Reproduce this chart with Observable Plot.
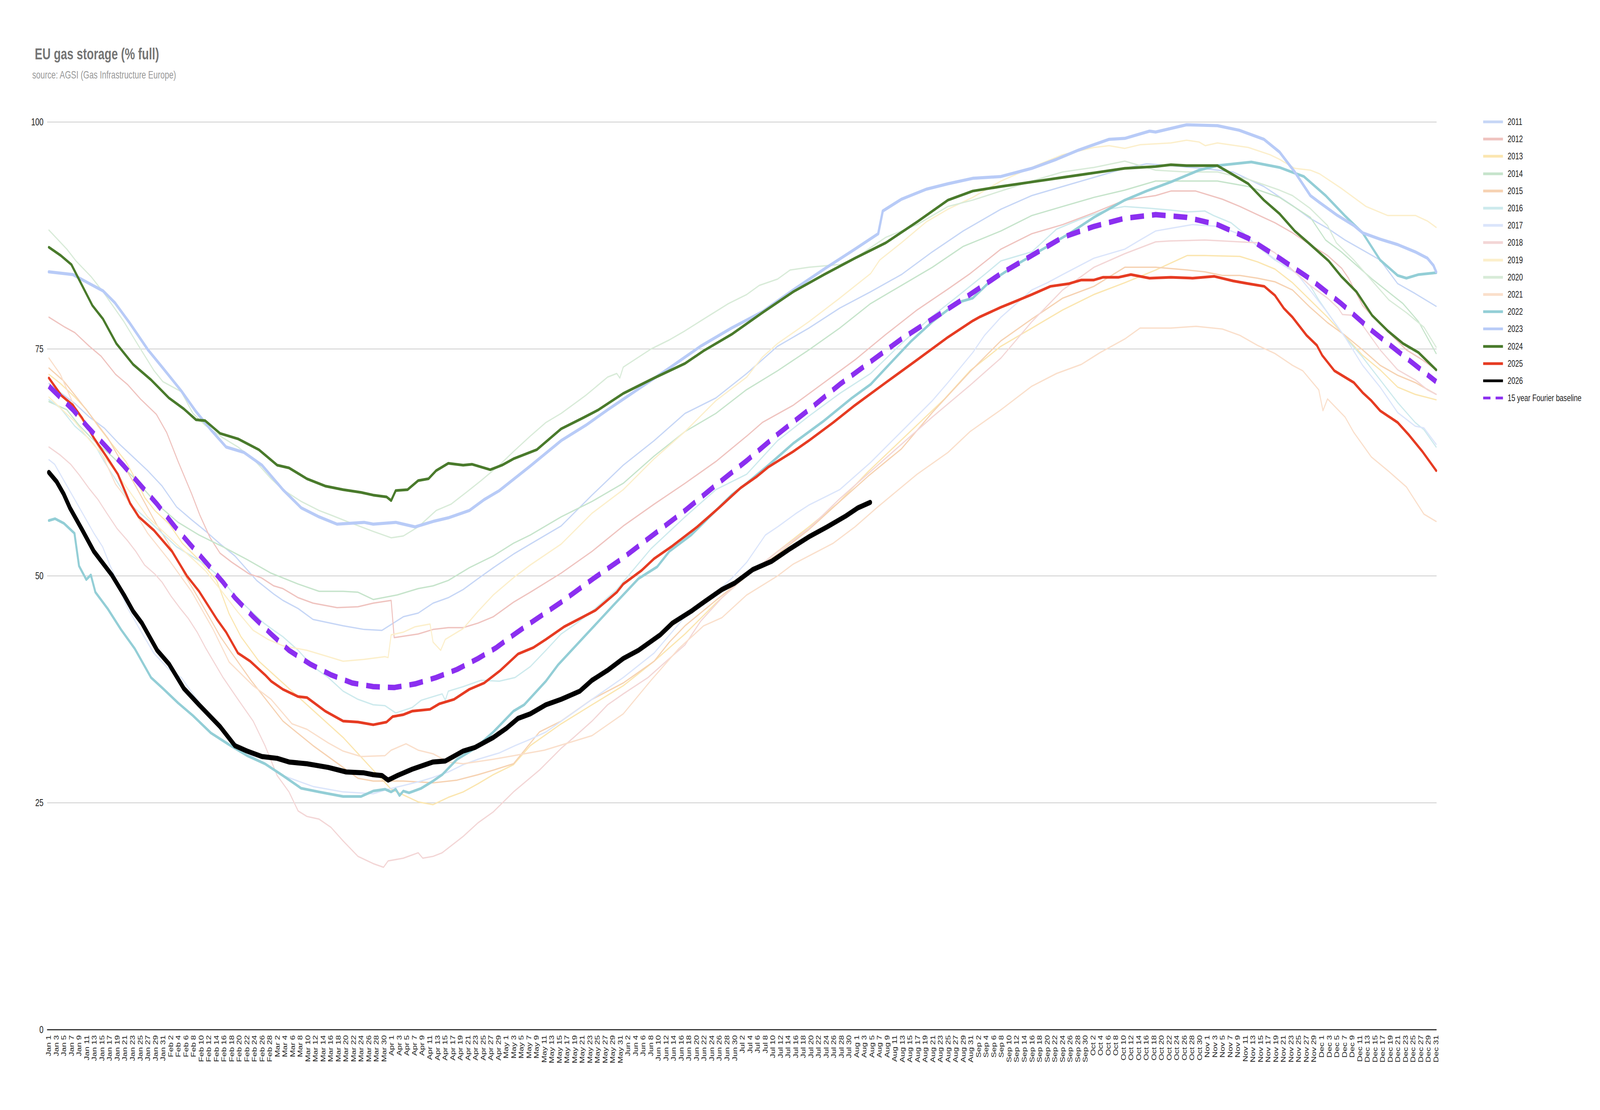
<!DOCTYPE html>
<html>
<head>
<meta charset="utf-8">
<script src="https://cdn.jsdelivr.net/npm/d3@7"></script>
<script src="https://cdn.jsdelivr.net/npm/@observablehq/plot@0.6"></script>
<style>
  html, body { margin: 0; padding: 0; background: #fff; overflow: hidden; }
  #wrap { position: relative; width: 5610px; height: 2842px; font-family: "Liberation Sans", Arial, sans-serif; transform-origin: 0 0; }
  #title { position: absolute; left: 122px; top: 118px; font-size: 40px; font-weight: bold; color: #757575; line-height: 1; z-index: 2; }
  #subtitle { position: absolute; left: 113px; top: 178px; font-size: 27.5px; color: #999; line-height: 1; z-index: 2; }
  #chart { position: absolute; left: 0; top: 0; }
  #legend { position: absolute; left: 5200px; top: 290px; z-index: 2; }
  .lg { display: flex; align-items: center; height: 44.2px; font-size: 24px; color: #222; white-space: nowrap; }
  .lg svg { margin-right: 16px; }
</style>
</head>
<body>
<div id="wrap">
  <div id="title">EU gas storage (% full)</div>
  <div id="subtitle">source: AGSI (Gas Infrastructure Europe)</div>
  <div id="chart"></div>
  <div id="legend"></div>
</div>
<script>
// ---- tick labels ----
const months = ["Jan","Feb","Mar","Apr","May","Jun","Jul","Aug","Sep","Oct","Nov","Dec"];
const monthLengths = [31,28,31,30,31,30,31,31,30,31,30,31];
const yTicks = [0, 25, 50, 75, 100];

// ---- series: [day of year (0 = Jan 1), % full] ----
const y2011 = [[0,71.2],[3,70.2],[6.8,69],[10.6,67.5],[14.5,66.3],[18.3,64.6],[22.1,63.1],[25.9,61.6],[29.7,59.9],[33.5,57.6],[37.4,56.2],[41.2,54.9],[45,53.5],[48.8,52.2],[54.5,49.5],[59,48],[61.4,47.3],[65.4,46.4],[69.3,45.2],[77.2,44.5],[82.7,44.1],[87.4,44],[93,45.5],[96.9,45.9],[100.8,47],[104.8,47.6],[108.7,48.5],[112.6,49.7],[116.6,50.9],[121.9,52.4],[126.3,53.5],[134.4,55.5],[142.5,58.9],[150.7,62.2],[158.8,64.9],[166.9,67.9],[175,69.6],[183.1,72.3],[191.2,75.3],[199.4,77.3],[207.5,79.5],[215.6,81.3],[223.7,83.2],[231.8,85.7],[239.9,88],[249.8,90.4],[257.9,91.9],[266,92.9],[274.2,93.9],[282.3,94.9],[288,95.4],[294.4,95.2],[302.6,94.9],[310.7,94.5],[318.8,92.9],[326.3,90.8],[330.9,89.4],[335.5,88.3],[340.1,87],[344.7,85.9],[349.3,84.8],[353.9,82.2],[358.5,81.1],[364,79.7]];
const y2012 = [[0,78.5],[4.2,77.4],[6.8,76.8],[10.6,75.3],[13.7,74.2],[17.5,72.2],[20.6,71.1],[24,69.5],[28.2,67.8],[30.9,65.8],[33.9,62.6],[37.4,59.1],[39.6,56.7],[42.3,54.2],[44.9,52.5],[48,51.5],[52.6,50.2],[55.7,49.8],[59,48.9],[61.4,48.6],[65.4,47.6],[69.3,47],[75.6,46.5],[81.1,46.6],[85.1,47],[89.8,47.3],[90.6,43.2],[96.9,43.6],[100.8,44.1],[104.8,44.3],[108.7,44.3],[112.6,44.8],[116.6,45.5],[121.9,47.1],[126.3,48.2],[134.4,50.3],[142.5,52.7],[150.7,55.5],[158.8,57.9],[166.9,60.2],[175,62.6],[183.1,65.4],[187.2,66.9],[195.3,68.8],[203.4,71.3],[211.5,73.8],[219.6,76.6],[227.8,79.3],[235.9,81.6],[241.7,83.3],[249.8,86],[257.9,87.7],[266,88.7],[274.2,90],[282.3,91.4],[290.4,91.9],[294.4,92.4],[300.9,92.4],[307.9,91.5],[312.5,90.7],[317.1,89.8],[321.7,88.9],[326.3,87.8],[330.9,86.5],[335.5,85.3],[339.2,83.9],[341,82.8],[344.7,79.8],[347.5,78.5],[351.6,76.8],[356.2,74.9],[360.4,73.8],[364,72.7]];
const y2013 = [[0,72.2],[3,71.2],[6.8,69.7],[9.9,68.3],[12.9,66.5],[16.4,64.6],[20.2,62.6],[22.8,60.6],[25.2,58.6],[27.8,57.2],[31.6,55.7],[35,53.6],[40,51.5],[44,49.5],[47.3,45.8],[50.4,43.3],[55.1,40.6],[61.4,38.2],[69.3,35.2],[77.2,32.2],[85.1,28.6],[89.8,26.5],[96.9,25.1],[100.8,24.8],[104.8,25.6],[108.7,26.2],[112.6,27.1],[116.6,28.1],[121.9,29.2],[126.3,31.3],[134.4,33.7],[142.5,35.8],[150.7,37.9],[158.8,40.6],[166.9,43.6],[175,47],[183.1,50],[191.2,52.7],[199.4,55.4],[207,58],[215,61.5],[225,65.5],[235,69.5],[241.7,72.6],[249.8,75.3],[257.9,77.3],[266,79.3],[274.2,81],[282.3,82.3],[290.4,83.7],[298.7,85.3],[303.3,85.3],[312.5,85.2],[317.1,84.6],[321.7,83.8],[326.3,82.3],[330.9,80.4],[335.5,78.5],[340.1,76.4],[344.7,74.3],[349.3,72.7],[353.9,70.8],[358.5,70],[364,69.4]];
const y2014 = [[0,69.2],[4.7,68.3],[7.9,66.6],[11.8,64.9],[16.5,63.2],[22.1,60.9],[28.4,57.9],[33.9,55.9],[39.4,54.5],[45.7,53.2],[52,51.8],[58.3,50.3],[65.4,49.1],[70.9,48.3],[77.2,48.3],[81.1,48.2],[85.1,47.4],[91.4,47.9],[96.9,48.6],[100.8,48.9],[104.8,49.5],[110.3,50.9],[116.6,52.2],[121.9,53.6],[126.3,54.5],[134.4,56.5],[142.5,58.2],[150.7,60.2],[158.8,63.2],[166.9,65.9],[175,67.9],[183,70.5],[191.2,72.6],[199.4,74.9],[207.5,77.3],[215.6,80],[223.7,82],[231.8,84],[239.9,86.3],[249.8,88],[257.9,89.7],[266,90.7],[274.2,91.7],[282.3,92.5],[290.4,93.5],[298.5,93.5],[306.6,93.5],[314.7,92.9],[322.9,91.7],[331,89.5],[335,87],[339.1,85.7],[347.2,82.7],[355.3,80],[359.4,78],[364,74.5]];
const y2015 = [[0,72.9],[3.8,71.5],[7.6,69.5],[12.2,67],[15.6,65.1],[19,62.6],[22.1,60.4],[25.1,58.1],[28.2,55.7],[30.9,53.9],[33.5,52],[35.8,50],[39.3,47.5],[42.3,45.3],[45,43.3],[47.3,41.9],[53,38.5],[61.4,34],[69.3,31.3],[77.2,28.9],[81.1,27.7],[85.1,27.4],[93,27.4],[100.8,27.2],[107.1,27.5],[112.6,28.1],[116.6,28.6],[121.9,29.3],[128.7,32.8],[134.4,34],[142.5,36.4],[150.7,38.2],[158.8,40.6],[162.8,42.7],[166.9,44.5],[175,47.3],[183.1,50],[191.2,52.4],[199.4,55.1],[207,58],[215,61],[223.7,64],[231.8,68],[241.7,72.5],[249.8,75.9],[257.9,78.3],[266,80.6],[274.2,81.9],[282.3,84],[290.4,84],[298.7,83.7],[303.3,83.5],[307.9,83.1],[312.5,83.1],[317.1,82.8],[321.7,82.4],[326.3,81.5],[330.9,79.6],[335.5,77.9],[340.1,76.5],[344.7,74.9],[349.3,73.2],[353.9,72.1],[358.5,71.3],[364,70]];
const y2016 = [[0,69.4],[3,68.5],[6.8,66.5],[10.6,65.1],[12.5,64.1],[14.5,62.6],[18.3,60.1],[22.1,57.6],[25.9,56.2],[29.7,54.7],[33.5,53.2],[37.4,52.2],[41.2,51.2],[45,49.8],[48.8,47.8],[52.6,46.3],[56.4,44.8],[59,44],[61.4,43.3],[65.4,41.8],[69.3,40],[73.3,38.8],[77.2,37.3],[81.1,36.4],[85.1,35.8],[88.2,35.7],[91,34.9],[95.3,35.5],[97.7,36.3],[100.8,36.7],[103.2,37],[104,36.3],[104.8,37.3],[108.7,37.8],[113.4,38.5],[118.2,38.4],[122.3,38.8],[126.3,40],[130.4,41.8],[134.4,43.6],[138.5,44.8],[142.5,46.1],[149,48.5],[158,53],[166.9,56.5],[175,59.5],[183.1,61.2],[191.2,64.9],[199.4,67.6],[207.5,70.1],[215.6,72.3],[223.7,75.6],[231.8,78.6],[239.9,81.3],[245.5,83.2],[249.8,84.7],[257.9,85.7],[264.4,88.2],[270.1,89.2],[278.2,90.4],[282.3,90.7],[288.8,90.5],[294.4,90.3],[298.7,90.1],[303.3,90.2],[305.6,89.7],[310.2,88.9],[313.4,87.8],[317.1,86.3],[321.7,84.8],[326.3,83.7],[330.9,82],[333.2,80.4],[335.5,79],[340.1,76.3],[344.7,74.1],[349.3,71.6],[353.9,69.1],[358.5,66.9],[360.8,66.1],[364,64.2]];
const y2017 = [[0,62.8],[1.5,62.3],[3.8,60.6],[6.8,58.4],[9.1,56.7],[11.8,54.7],[14.1,53.2],[16,51.2],[17.5,49.8],[19,48],[20.6,46.5],[24,44],[27.5,41.5],[31.5,39.7],[34.7,38.8],[37.8,37],[43,34],[48.8,31.6],[53,30.2],[58.3,28.9],[61.4,28],[69.3,26.8],[77.2,26.2],[85.1,26],[89,26.5],[93,26.9],[97.7,27.4],[100.8,27.8],[104.8,28.4],[108.7,29.2],[112.6,29.8],[118.2,30.5],[122.3,31.3],[126.3,32],[130.4,32.8],[138.5,35.2],[142.5,36.4],[150.7,38.8],[158.8,41.5],[166.9,45.5],[173.4,47.6],[179.1,49.7],[183.1,51.5],[188,54.5],[191.2,55.4],[196.1,56.9],[199.4,57.8],[207.5,59.5],[215.6,62.5],[223.7,65.9],[231.8,69.3],[235.9,71.3],[242.4,74.6],[245.5,76.5],[249.8,78.5],[257.9,81.5],[262,82.3],[266,83.2],[274.2,85],[282.3,86],[286.3,87],[290.4,88],[294.4,88.3],[300,88.7],[307,88.5],[310.2,88],[313.9,87.4],[319.4,85.6],[324,84.2],[327.2,83.4],[330.9,81.5],[335.5,79],[340.1,76.3],[344.7,73.2],[349.3,70.8],[353.9,68],[358.5,66.5],[360.8,66.3],[364,64.5]];
const y2018 = [[0,64.2],[3,63.3],[5.7,62.3],[8,61.1],[10.6,59.6],[12.9,58.4],[15.2,56.9],[17.9,55.2],[20.6,53.9],[22.8,52.7],[25.1,51.2],[27.8,50.2],[29.7,49.3],[32,47.8],[34.3,46.5],[36.6,45.3],[38.9,43.8],[41.2,42],[45.7,38.8],[49.6,36.4],[53.6,34],[56.7,31.3],[59.9,28],[63,26.2],[65.4,24.1],[67.7,23.5],[70.9,23.2],[74,22.3],[77.2,20.8],[81.1,19.1],[85.1,18.3],[87.8,17.9],[89,18.6],[93,18.9],[96.9,19.5],[98.1,18.9],[100.8,19.1],[103.2,19.5],[108.7,21.3],[112.6,22.8],[116.6,24],[121.9,26.2],[128.7,28.6],[134.4,31],[137.7,32.2],[142.5,34],[146.6,35.8],[150.7,37],[157.2,38.8],[162,40.6],[166.9,42.4],[171,45],[176.6,47.6],[183,50],[191,52.6],[199.4,55.2],[207.5,58.5],[215.6,61.5],[223.7,64.5],[231.8,67.5],[241.7,71],[249.8,74],[257.9,78],[266,81.5],[274.2,84],[282.3,85.5],[290.4,86.8],[294,86.9],[303.3,87],[312.5,86.8],[317,86.7],[321.7,85.6],[326.3,83.7],[330.9,82],[335.5,80.6],[338.3,79.5],[339.4,78.8],[342.4,78.7],[344.7,77.6],[349.3,74.9],[353.9,72.7],[358.5,71.6],[361.7,70.5],[364,70]];
const y2019 = [[0,69.7],[3,68.5],[6.8,67],[10.6,65],[13.7,63.5],[17.5,61.5],[22,58.8],[25.9,56.5],[29.7,55],[33.5,53.5],[37.4,52],[41.2,50.5],[45,48.5],[49.6,46],[53.6,44],[57.5,43],[61.4,42.3],[67.7,41.8],[73.3,41.1],[77.2,40.6],[82.7,40.8],[88.2,41.1],[89,41],[89.8,43.5],[93,43.8],[96.1,44.4],[100,44.7],[100.8,42.7],[102.8,41.8],[104,43],[108.7,44.2],[112.6,46.1],[116.6,47.9],[121.9,49.8],[126.3,51.2],[134.4,53.5],[142.5,56.9],[150.7,59.5],[158.8,62.9],[166.9,65.9],[175,69.3],[183.1,71.9],[187.2,74.1],[191.2,75.6],[199.4,78],[207.5,80.6],[215.6,83.3],[218,84.8],[223.7,86.7],[230.2,89],[235.9,90.4],[242.4,91.7],[249.8,93.5],[257.9,95],[266,96.4],[274.2,97.2],[278.2,97.4],[282.3,97.1],[286.3,97.5],[294.4,97.7],[298.5,98],[301.8,97.8],[303.4,97.4],[306.6,97.7],[314.7,97.2],[320.4,96.4],[322.9,95.9],[326.9,94.9],[331,94.7],[333.4,94.3],[339.1,92.7],[345.6,90.7],[351.3,89.7],[358.6,89.7],[361.7,89.1],[364,88.4]];
const y2020 = [[0,88.1],[4.7,86],[7.1,84.7],[11,83],[14.2,81.3],[19.7,78],[23.6,75.3],[27.6,72.6],[29.9,71.4],[34.7,70.3],[37.8,67.9],[41,66.6],[45.7,65.2],[49.6,64.2],[53.6,62.9],[58.3,60.7],[61.4,59.5],[66.2,58.2],[70.9,57.2],[74,56.7],[78.8,55.9],[85.1,54.9],[89.8,54.2],[93,54.4],[96.9,55.4],[101.6,57.2],[105.5,57.9],[109.5,59.2],[113.4,60.5],[118.2,62.2],[121.9,63.7],[126.3,65.4],[130.4,66.9],[134.4,67.9],[140.9,69.9],[146.6,71.9],[149,72.3],[149.8,71.8],[150.7,73],[158,75],[162.8,76],[166.9,77],[171.8,78.3],[178.3,80],[183.1,81],[186.4,82],[191.2,82.7],[194.5,83.7],[199.4,84],[207.5,84.3],[211.5,85],[219.6,87.3],[227.8,88.7],[235.9,90.7],[242.4,91.4],[249.8,92.4],[257.9,93.5],[266,94.5],[274.2,95],[282.3,95.7],[290.4,94.7],[298.5,94.5],[306.6,94.5],[314.7,93.7],[322.9,92.5],[326.3,91.9],[330.9,90.5],[335.5,88.6],[337.8,86.7],[342.4,84.8],[347,82.6],[351.6,80.4],[356.2,79],[360.8,77.4],[364,75.2]];
const y2021 = [[0,74],[3,72.2],[7.6,67.8],[10.6,66],[13.7,63.6],[17.5,60.1],[20.6,58.4],[25.9,54.7],[31.6,51.7],[37.4,48.3],[43.1,44.1],[47.3,40.5],[53.6,37.9],[58.3,36.4],[63.8,33.7],[67.7,33.1],[73.3,31.6],[77.2,30.7],[81.9,30.1],[88.2,30.2],[89.8,30.8],[93.7,31.5],[96.9,30.8],[100.8,30.4],[104.8,29.5],[108.7,29.3],[116.6,29.8],[122,30.2],[130,30.8],[142.5,32.4],[150.7,34.8],[158,38.5],[165.3,42],[171.8,44.5],[176.6,45.4],[183.1,47.9],[191.2,50],[195.3,51.3],[205.8,53.6],[211.5,55.4],[217.2,57.5],[227.8,61.2],[235.9,63.6],[241.7,65.9],[249.8,68.3],[257.9,70.9],[264.4,72.3],[270.9,73.3],[275.8,74.6],[282.3,76.1],[286.3,77.3],[294.4,77.3],[301,77.5],[307.9,77.2],[312.5,76.5],[317.1,75.4],[321.7,74.5],[326.3,73.2],[329,72.6],[333.2,70.5],[334.3,68.2],[335.5,69.5],[340.1,67.5],[342.4,65.8],[347,63.1],[351.6,61.5],[356.2,59.8],[360.8,56.8],[364,56]];
const y2022 = [[0,56.1],[1.6,56.3],[3.9,55.8],[6.7,54.7],[7.9,51.1],[9.8,49.6],[11,50.1],[12.2,48.2],[15.4,46.4],[18.9,44.1],[22.5,42],[26.8,38.8],[29.9,37.6],[33.9,36],[37.8,34.6],[42.5,32.7],[47.3,31.4],[52,30.2],[56.7,29.3],[61.4,28],[66.2,26.6],[70.9,26.2],[77.2,25.7],[81.9,25.7],[85.1,26.3],[88.2,26.5],[89.8,26.2],[91,26.5],[92,25.8],[93,26.3],[94.5,26.1],[97.7,26.6],[100.8,27.4],[103.2,28.1],[107.1,29.8],[111.8,31],[116.6,32.8],[121.9,35.1],[124.7,35.8],[130.4,38.4],[133.6,40.2],[140.9,43.5],[148.2,46.8],[154.7,49.7],[159.6,51],[162.8,52.7],[168.5,54.5],[175,57.2],[179.1,58.9],[183.1,60.2],[188.8,62.2],[195.3,64.6],[203.4,67.1],[210.7,69.6],[215.6,71.1],[220.5,73.3],[226.1,75.8],[231.8,78],[238.3,80.1],[242.4,80.6],[246.6,82.3],[253.9,84.3],[262,86.3],[267.7,87.7],[274.2,89.5],[282.3,91.4],[288,92.4],[294.4,93.4],[301.8,94.7],[306.6,95.2],[315.5,95.6],[322.9,95],[329.3,94],[335,91.9],[340,89.7],[344.7,87.8],[349.3,84.8],[353.9,83.1],[356.2,82.8],[359.4,83.2],[364,83.4]];
const y2023 = [[0,83.5],[6.3,83.2],[10.2,82.3],[14.2,81.4],[17.3,80.1],[21.3,77.8],[26,74.9],[29.9,72.9],[34.7,70.4],[38.6,68.1],[42.5,66.1],[46.5,64.2],[51.2,63.6],[55.9,62.2],[61.4,59.5],[66.2,57.5],[70.9,56.5],[75.6,55.7],[82.7,55.9],[85.1,55.7],[91,55.9],[96.1,55.4],[100.8,56],[104.8,56.4],[110.3,57.2],[114.2,58.4],[118.2,59.4],[126.3,62.1],[134.4,64.9],[140.9,66.6],[146.6,68.3],[154.7,70.6],[162.8,72.9],[171,75.3],[179.1,77.3],[187.2,79.1],[195.3,81.5],[203.4,83.8],[211.5,86],[217.6,87.7],[218.8,90.2],[223.7,91.5],[230.2,92.6],[235.9,93.2],[242.4,93.8],[249.8,94],[257.9,94.9],[264.4,95.9],[270.1,96.9],[278.2,98.1],[282.3,98.2],[288.8,99],[290.4,98.9],[298.5,99.7],[306.6,99.6],[312.3,99.1],[318.8,98.1],[322.9,96.7],[326.9,94.5],[331,91.9],[333.2,91.2],[337.8,89.8],[342.4,88.6],[344.7,87.8],[349.3,87.1],[353.9,86.5],[358.5,85.7],[361.7,85],[363.3,84.2],[364,83.5]];
const y2024 = [[0,86.2],[3.1,85.3],[5.9,84.3],[8.7,82],[11.4,79.8],[14.2,78.3],[17.7,75.6],[22.1,73.3],[26.8,71.6],[31.5,69.6],[35.4,68.4],[38.6,67.2],[41,67.1],[44.9,65.7],[49.6,65.1],[55.1,63.9],[59.9,62.2],[63,61.9],[67.7,60.7],[72.5,59.9],[77.2,59.5],[81.9,59.2],[85.1,58.9],[88.6,58.7],[89.8,58.3],[91,59.4],[94.1,59.5],[96.9,60.5],[99.6,60.7],[101.6,61.6],[104.8,62.4],[108.7,62.2],[111,62.3],[115.8,61.7],[118.9,62.2],[121.9,62.9],[128,63.9],[134.4,66.2],[140.1,67.4],[144.2,68.3],[150.7,70.1],[158.8,71.8],[166.9,73.4],[171.8,74.8],[179.1,76.6],[187.2,79],[195.3,81.3],[203.4,83.2],[211.5,85],[219.6,86.7],[227.8,89],[235.9,91.4],[242.4,92.4],[249.8,92.9],[257.9,93.4],[266,93.9],[274.2,94.4],[282.3,94.9],[290.4,95.1],[294.4,95.3],[298.5,95.2],[306.6,95.2],[310.7,94.2],[314.7,93.2],[318.8,91.4],[322.9,89.9],[326.9,88],[331,86.5],[335.8,84.7],[339.1,83],[343.1,81.3],[347.2,78.7],[351.3,77],[355.3,75.6],[359.4,74.6],[364,72.7]];
const y2025 = [[0,71.8],[3.2,69.9],[6.3,68.8],[8.7,67.4],[11.8,65.2],[15,63.2],[18.1,61.2],[21.3,58],[23.6,56.5],[27.6,55],[32.3,52.7],[36.2,50],[39.4,48.3],[44.1,45.2],[46.5,43.8],[49.6,41.5],[52.8,40.6],[56.7,39.1],[58.3,38.4],[61.4,37.5],[65.4,36.7],[67.7,36.6],[72.5,35.1],[77.2,34],[81.1,33.9],[85.1,33.6],[88.6,33.9],[90.2,34.5],[92.9,34.7],[95.3,35.1],[100,35.3],[102.4,35.9],[106.3,36.4],[110.3,37.5],[114.2,38.2],[118.5,39.6],[123.1,41.4],[127.1,42.1],[130.4,43],[135.2,44.4],[139.3,45.3],[143.4,46.2],[149,48.2],[150.7,49.1],[155.5,50.6],[158.8,51.9],[163.6,53.3],[170.1,55.4],[175.8,57.5],[181.5,59.7],[185.6,60.9],[188.8,62],[195.3,63.7],[199.4,64.9],[205.8,66.9],[211.5,68.8],[219.6,71.3],[227.8,73.8],[235.9,76.3],[242.4,78.1],[244.1,78.5],[249.8,79.6],[253.9,80.3],[257.9,81],[262.8,81.9],[267.7,82.2],[270.9,82.6],[274.2,82.6],[276.6,82.9],[280.7,82.9],[283.9,83.2],[288.8,82.8],[294.4,82.9],[300.1,82.8],[305.8,83],[310.7,82.5],[314.7,82.2],[318.9,81.9],[321.7,80.9],[324,79.5],[326.3,78.5],[330,76.5],[332.7,75.4],[334.1,74.3],[337.3,72.6],[342.4,71.3],[344.7,70.2],[347,69.3],[349.3,68.2],[353.9,66.9],[356.7,65.6],[360.4,63.7],[364,61.6]];
const y2026 = [[0,61.4],[2,60.4],[3.9,59],[5.5,57.5],[8.7,55.1],[11.8,52.7],[16.5,50.1],[19.7,47.9],[22.1,46.1],[24.4,44.8],[28.4,41.8],[31.5,40.3],[35.4,37.6],[39.4,35.8],[44.9,33.4],[48.8,31.3],[52,30.7],[55.9,30.1],[59.9,29.9],[63,29.5],[67.7,29.3],[73.3,28.9],[78,28.4],[82.7,28.3],[85.1,28.1],[87.4,28],[89,27.5],[91.4,28],[95.3,28.7],[100.8,29.5],[104,29.6],[108.7,30.7],[111.8,31.1],[116.6,32.2],[120,33.2],[123.1,34.3],[126.3,34.8],[130.4,35.8],[134.4,36.4],[139.3,37.3],[142.5,38.5],[146.6,39.6],[150.7,40.9],[154.7,41.8],[160.4,43.5],[163.6,44.8],[168.5,46.1],[171.8,47.1],[176.6,48.5],[179.9,49.2],[184.7,50.7],[189.6,51.6],[194.5,53],[199.4,54.3],[204.2,55.4],[209.1,56.6],[212.3,57.5],[215.5,58.1]];
const baseline = [[0,70.9],[6.3,68.3],[10.2,66.4],[14.2,64.6],[19.7,62.1],[23.6,60.2],[28.4,57.9],[33.1,55.4],[37,53.5],[41,51.6],[45.7,49.3],[48.8,47.6],[53.6,45.5],[58.3,43.6],[63,41.8],[68.5,40.3],[74,39.1],[79.6,38.2],[85.1,37.8],[90.6,37.7],[96.1,38.1],[101.6,38.8],[107.1,39.7],[112.6,40.9],[117.4,42.1],[121.9,43.5],[126.3,44.8],[134.4,47.1],[142.5,49.6],[150.7,52],[158.8,54.6],[166.9,57.2],[175,60],[183.1,62.7],[191.2,65.6],[199.4,68.3],[207.5,71.1],[215.6,73.6],[223.7,76.1],[231.8,78.3],[239.9,80.5],[249.8,83.3],[257.9,85.3],[266,87.3],[274.2,88.5],[282.3,89.4],[290.4,89.8],[298.5,89.5],[306.6,88.7],[314.7,87.2],[322.9,85],[331,82.7],[339.1,80],[347.2,77],[355.3,74.3],[364,71.4]];

// ---- series styling ----
const seriesNames = ["2011","2012","2013","2014","2015","2016","2017","2018","2019","2020","2021","2022","2023","2024","2025","2026"];
const seriesData = [y2011,y2012,y2013,y2014,y2015,y2016,y2017,y2018,y2019,y2020,y2021,y2022,y2023,y2024,y2025,y2026];
const seriesColors = ["#c6d6f6","#efc3bf","#fbe6b0","#c6e4cb","#f6d2b2","#cdeaed","#dbe5fb","#f3d6d6","#fcefcb","#d8ebd8","#fadfcb","#93ced6","#b8cbf7","#497a2b","#e63b22","#000000"];
const seriesWidths = [3.5,3.5,3.5,3.5,3.5,3.5,3.5,3.5,3.5,3.5,3.5,7,8,7,7,13];
const baselineName = "15 year Fourier baseline";
const baselineColor = "#8b2ff0";

// the design is laid out on a 5610 x 2842 canvas; fit it to the actual window
const sx = Math.min(1, window.innerWidth / 5610);
const sy = Math.min(1, window.innerHeight / 2842);
document.getElementById("wrap").style.transform = `scale(${sx}, ${sy})`;

function dayLabel(d) {
  let m = 0, r = Math.round(d);
  while (m < 11 && r >= monthLengths[m]) { r -= monthLengths[m]; m++; }
  return months[m] + " " + (r + 1);
}

const lineMarks = seriesData.map((data, i) =>
  Plot.line(data, {x: d => d[0], y: d => d[1], stroke: seriesColors[i], strokeWidth: seriesWidths[i], strokeLinejoin: "round", strokeLinecap: "round"})
);

const chart = Plot.plot({
  width: 5610,
  height: 2842,
  marginTop: 312,
  marginBottom: 206,
  marginLeft: 165,
  marginRight: 573,
  style: {fontFamily: "'Liberation Sans', Arial, sans-serif", color: "#222", background: "transparent", maxWidth: "none"},
  x: {domain: [0, 364], insetLeft: 6, insetRight: 2},
  y: {domain: [0, 100]},
  marks: [
    Plot.ruleY(yTicks.filter(v => v > 0), {stroke: "#cccccc", strokeWidth: 2}),
    Plot.ruleY([0], {stroke: "#333333", strokeWidth: 3}),
    Plot.axisY({ticks: yTicks, tickSize: 0, tickPadding: 13, fontSize: 26, label: null}),
    Plot.axisX({ticks: d3.range(0, 365, 2), tickFormat: dayLabel, tickRotate: -90, tickSize: 0, tickPadding: 14, fontSize: 22, label: null}),
    ...lineMarks,
    Plot.line(baseline, {x: d => d[0], y: d => d[1], stroke: baselineColor, strokeWidth: 14, strokeDasharray: "48,28", strokeLinecap: "butt"})
  ]
});
document.getElementById("chart").appendChild(chart);

// ---- legend ----
const legend = document.getElementById("legend");
const entries = seriesNames.map((n, i) => ({name: n, color: seriesColors[i], dash: null}));
entries.push({name: baselineName, color: baselineColor, dash: "26,18"});
for (const e of entries) {
  const row = document.createElement("div");
  row.className = "lg";
  row.innerHTML = `<svg width="70" height="10"><line x1="0" y1="5" x2="70" y2="5" stroke="${e.color}" stroke-width="7" ${e.dash ? `stroke-dasharray="${e.dash}"` : ""}/></svg><span>${e.name}</span>`;
  legend.appendChild(row);
}
</script>
</body>
</html>
